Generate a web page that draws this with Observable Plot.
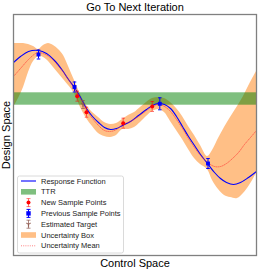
<!DOCTYPE html>
<html>
<head>
<meta charset="utf-8">
<script src="https://cdn.jsdelivr.net/npm/d3@7"></script>
<script src="https://cdn.jsdelivr.net/npm/@observablehq/plot@0.6"></script>
<style>
  html, body { margin: 0; padding: 0; background: white; }
  #chart { width: 270px; height: 270px; }
</style>
</head>
<body>
<div id="chart"></div>
<script>
// ---- data (abstract control / design units) ----
const xDomain = [0, 243];
const yDomain = [0, 241];

const curveX = [0, 7, 15, 25, 33, 41, 49, 55, 61, 67, 73, 79, 85, 91, 97, 103, 109, 117, 125, 133, 139, 145, 151, 157, 163, 169, 175, 181, 187, 194, 201, 207, 213, 220, 227, 235, 243];
const curveY = [193, 199, 204, 205, 202, 195, 185, 176, 168, 158, 147, 139, 133, 128, 126, 127, 130, 134, 140, 146, 150, 152, 151, 147, 139, 129, 119, 110, 101, 92, 83, 77, 73, 71, 73, 78, 84];

const meanX = [0, 7, 15, 22, 25, 32, 39, 47, 55, 61, 67, 73, 79, 85, 91, 97, 103, 109, 117, 125, 133, 139, 145, 151, 157, 163, 169, 175, 181, 187, 194, 201, 207, 213, 219, 225, 231, 237, 243];
const meanY = [179, 187, 196, 202, 203, 201, 196, 187, 176, 167, 157, 145, 137, 130, 125, 124, 126, 131, 134, 139, 145, 149, 151, 149, 144, 136, 127, 117, 108, 100, 93, 89, 89, 92, 97, 103, 111, 118, 125];

const bandX  = [0, 5, 10, 15, 20, 25, 30, 35, 40, 45, 50, 55, 61, 67, 73, 79, 85, 91, 97, 103, 109, 115, 121, 127, 133, 139, 145, 151, 157, 163, 169, 175, 181, 187, 194, 199, 205, 211, 217, 224, 230, 236, 243];
const bandLo = [148, 157, 168, 183, 194, 199, 198, 194, 188, 182, 176, 170, 162, 148, 137, 129, 122, 119, 118, 120, 126, 126, 128, 133, 139, 144, 146, 143, 134, 125, 116, 106, 97, 91, 86, 75, 66, 60, 58, 57, 62, 70, 82];
const bandHi = [212, 212, 212, 211, 209, 206, 210, 212, 210, 206, 200, 189, 175, 161, 150, 143, 138, 133, 131, 132, 136, 140, 143, 148, 153, 157, 158, 157, 153, 147, 139, 129, 120, 110, 99, 105, 117, 128, 138, 149, 159, 171, 184];

const prevX = [25, 61, 146.3, 194.5];
const prevY = [201, 168.5, 151.7, 92];
const prevErr = [4.5, 5, 6, 5];

const newX = [63.7, 73, 109.7, 138.7];
const newY = [159.3, 143.3, 132.3, 149];
const newErr = [5, 5, 5, 5];

const targetX = [69.5];
const targetY = [151];
const targetErr = [4];

const ttrLow = 150.3, ttrHigh = 162.7;

const legendLabels = ["Response Function", "TTR", "New Sample Points", "Previous Sample Points", "Estimated Target", "Uncertainty Box", "Uncertainty Mean"];

// ---- tables ----
const curve = curveX.map((x, i) => ({x, y: curveY[i]}));
const mean = meanX.map((x, i) => ({x, y: meanY[i]}));
const band = bandX.map((x, i) => ({x, lo: bandLo[i], hi: bandHi[i]}));
const prev = prevX.map((x, i) => ({x, y: prevY[i], e: prevErr[i]}));
const news = newX.map((x, i) => ({x, y: newY[i], e: newErr[i]}));
const target = targetX.map((x, i) => ({x, y: targetY[i], e: targetErr[i]}));

const capSymbol = { draw(ctx, size) { const r = Math.sqrt(size) / 2; ctx.moveTo(-r, 0); ctx.lineTo(r, 0); } };
const triDown = { draw(ctx, size) { const r = Math.sqrt(size) / 2;
  ctx.moveTo(0, 0); ctx.lineTo(0, r);
  ctx.moveTo(0, 0); ctx.lineTo(-0.87 * r, -0.5 * r);
  ctx.moveTo(0, 0); ctx.lineTo(0.87 * r, -0.5 * r); } };

function errorMarks(data, color, barOpacity) {
  return [
    Plot.ruleX(data, {x: "x", y1: d => d.y - d.e, y2: d => d.y + d.e, stroke: color, strokeOpacity: barOpacity, strokeWidth: 1}),
    Plot.dot(data, {x: "x", y: d => d.y - d.e, symbol: capSymbol, r: 2, stroke: color, strokeOpacity: barOpacity, strokeWidth: 1}),
    Plot.dot(data, {x: "x", y: d => d.y + d.e, symbol: capSymbol, r: 2, stroke: color, strokeOpacity: barOpacity, strokeWidth: 1})
  ];
}

const chart = Plot.plot({
  width: 270, height: 270,
  marginTop: 14, marginLeft: 13, marginRight: 14, marginBottom: 15,
  x: {domain: xDomain, axis: null},
  y: {domain: yDomain, axis: null},
  style: {fontFamily: "'Liberation Sans', Arial, sans-serif", background: "white", overflow: "visible"},
  marks: [
    Plot.areaY(band, {x: "x", y1: "lo", y2: "hi", fill: "#ff7f0e", fillOpacity: 0.5, curve: "catmull-rom"}),
    Plot.rect([{y1: ttrLow, y2: ttrHigh}], {x1: () => xDomain[0], x2: () => xDomain[1], y1: "y1", y2: "y2", fill: "green", fillOpacity: 0.5}),
    Plot.line(curve, {x: "x", y: "y", stroke: "blue", strokeWidth: 1.1, curve: "catmull-rom"}),
    Plot.line(mean, {x: "x", y: "y", stroke: "#ff3030", strokeOpacity: 0.75, strokeWidth: 0.8, strokeDasharray: "1,1.2", curve: "catmull-rom"}),
    ...errorMarks(news, "red", 0.55),
    Plot.dot(news, {x: "x", y: "y", r: 2, fill: "red"}),
    ...errorMarks(prev, "blue", 1),
    Plot.dot(prev, {x: "x", y: "y", symbol: "square", r: 2.2, fill: "blue"}),
    ...errorMarks(target, "#8c564b", 0.7),
    Plot.dot(target, {x: "x", y: "y", symbol: triDown, r: 2.5, stroke: "#8c564b", strokeOpacity: 0.8, strokeWidth: 1.2}),
    Plot.frame({stroke: "#808080", strokeWidth: 1.3}),
    Plot.text(["Go To Next Iteration"], {frameAnchor: "top", dy: -7, lineAnchor: "middle", textAnchor: "middle", fontSize: 11, fill: "black"}),
    Plot.text(["Control Space"], {frameAnchor: "bottom", dy: 8, lineAnchor: "middle", textAnchor: "middle", fontSize: 11, fill: "black"}),
    Plot.text(["Design Space"], {frameAnchor: "left", dx: -7, rotate: -90, lineAnchor: "middle", textAnchor: "middle", fontSize: 11, fill: "black"})
  ]
});

// ---- legend ----
const svg = d3.select(chart);
const lg = svg.append("g").attr("font-family", "'Liberation Sans', Arial, sans-serif").attr("font-size", 7.5).attr("text-anchor", "start");
lg.append("rect").attr("x", 17.5).attr("y", 176).attr("width", 106).attr("height", 77)
  .attr("rx", 2).attr("fill", "white").attr("fill-opacity", 0.8).attr("stroke", "#d0d0d0").attr("stroke-width", 0.8);
const y0 = 181, step = 10.8, hx1 = 21, hx2 = 36, hc = 28.5, tx = 41;
legendLabels.forEach((t, i) => {
  const yy = y0 + i * step;
  lg.append("text").attr("x", tx).attr("y", yy).attr("dy", "0.35em").attr("fill", "#222").attr("text-anchor", "start").text(t);
  if (i === 0) lg.append("line").attr("x1", hx1).attr("x2", hx2).attr("y1", yy).attr("y2", yy).attr("stroke", "blue").attr("stroke-width", 1.1);
  if (i === 1) lg.append("rect").attr("x", hx1).attr("y", yy - 2.8).attr("width", hx2 - hx1).attr("height", 5.6).attr("fill", "green").attr("fill-opacity", 0.5);
  if (i === 5) lg.append("rect").attr("x", hx1).attr("y", yy - 2.8).attr("width", hx2 - hx1).attr("height", 5.6).attr("fill", "#ff7f0e").attr("fill-opacity", 0.5);
  if (i === 6) lg.append("line").attr("x1", hx1).attr("x2", hx2).attr("y1", yy).attr("y2", yy).attr("stroke", "#ff3030").attr("stroke-opacity", 0.75).attr("stroke-width", 0.8).attr("stroke-dasharray", "1,1.2");
  if (i >= 2 && i <= 4) {
    const col = i === 2 ? "red" : i === 3 ? "blue" : "#8c564b";
    const op = i === 2 ? 0.55 : i === 3 ? 1 : 0.7;
    lg.append("line").attr("x1", hc).attr("x2", hc).attr("y1", yy - 4).attr("y2", yy + 4).attr("stroke", col).attr("stroke-opacity", op);
    lg.append("line").attr("x1", hc - 2).attr("x2", hc + 2).attr("y1", yy - 4).attr("y2", yy - 4).attr("stroke", col).attr("stroke-opacity", op);
    lg.append("line").attr("x1", hc - 2).attr("x2", hc + 2).attr("y1", yy + 4).attr("y2", yy + 4).attr("stroke", col).attr("stroke-opacity", op);
    if (i === 2) lg.append("circle").attr("cx", hc).attr("cy", yy).attr("r", 2).attr("fill", "red");
    if (i === 3) lg.append("rect").attr("x", hc - 2.2).attr("y", yy - 2.2).attr("width", 4.4).attr("height", 4.4).attr("fill", "blue");
    if (i === 4) lg.append("path").attr("d", `M${hc},${yy}v2.5M${hc},${yy}l-2.2,-1.25M${hc},${yy}l2.2,-1.25`).attr("stroke", col).attr("stroke-opacity", 0.8).attr("stroke-width", 1.2).attr("fill", "none");
  }
});

document.getElementById("chart").appendChild(chart);
</script>
</body>
</html>
